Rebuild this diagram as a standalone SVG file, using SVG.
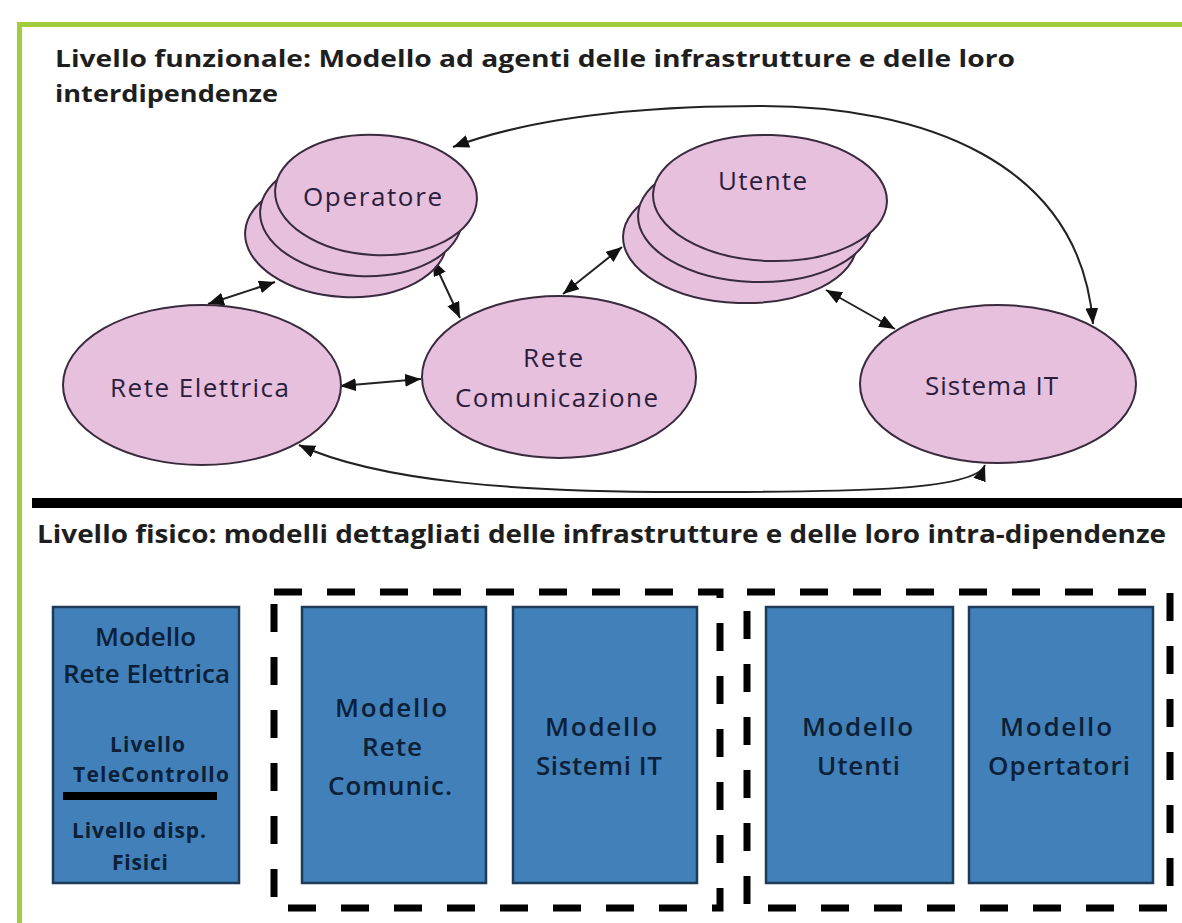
<svg xmlns="http://www.w3.org/2000/svg" width="1182" height="923" viewBox="0 0 1182 923">
<defs>
<style>
.title{font-family:"Open Sans","Liberation Sans",sans-serif;font-weight:bold;fill:#1e1e1e}
.el{fill:#e6c0dd;stroke:#3a2a3e;stroke-width:2}
.elt{font-family:"Open Sans","Liberation Sans",sans-serif;font-size:26px;font-weight:500;fill:#2b1d3b}
.box{fill:#4180b8;stroke:#1d3a58;stroke-width:2.5}
.bt{font-family:"Open Sans","Liberation Sans",sans-serif;font-size:26px;font-weight:600;fill:#0c2038}
.bts{font-family:"Open Sans","Liberation Sans",sans-serif;font-size:21px;font-weight:bold;fill:#0c2038}
.con{fill:none;stroke:#222;stroke-width:2;marker-start:url(#ah);marker-end:url(#ah)}
.dash{fill:none;stroke:#000;stroke-width:7;stroke-dasharray:28 25}
</style>
<marker id="ah" viewBox="0 0 16 13" refX="16" refY="6.5" markerWidth="16" markerHeight="13" markerUnits="userSpaceOnUse" orient="auto-start-reverse">
<path d="M0,0 L16,6.5 L0,13 z" fill="#111"/>
</marker>
</defs>
<rect width="1182" height="923" fill="#fff"/>
<g id="frame">
<rect x="17" y="22" width="5" height="901" fill="#9fcd3c"/>
<rect x="17" y="22" width="1165" height="5" fill="#9fcd3c"/>
<rect x="32" y="498" width="1150" height="10" fill="#000"/>
</g>
<g id="titles">
<text class="title" x="55" y="67" font-size="23" textLength="960" lengthAdjust="spacingAndGlyphs">Livello funzionale: Modello  ad agenti delle infrastrutture e delle loro</text>
<text class="title" x="55" y="102" font-size="23" textLength="223" lengthAdjust="spacingAndGlyphs">interdipendenze</text>
<text class="title" x="37" y="543" font-size="25" textLength="1129" lengthAdjust="spacingAndGlyphs">Livello fisico: modelli dettagliati delle infrastrutture e delle loro intra-dipendenze</text>
</g>
<g id="connectors">
<path class="con" d="M275 282 L208 304"/>
<path class="con" d="M433 260 L460 318"/>
<path class="con" d="M340 386 L421 379"/>
<path class="con" d="M563 294 L622 247"/>
<path class="con" d="M826 290 L895 329"/>
<path class="con" d="M453 147 C520 122 620 106 760 106 C920 106 1080 160 1093 324"/>
<path class="con" d="M299 445 C380 482 520 492 680 492 C840 492 975 492 985 465"/>
</g>
<g id="operatore">
<ellipse class="el" cx="346" cy="237" rx="101" ry="60" transform="rotate(3 346 237)"/>
<ellipse class="el" cx="361" cy="216" rx="101" ry="60" transform="rotate(3 361 216)"/>
<ellipse class="el" cx="376" cy="195" rx="101" ry="60" transform="rotate(3 376 195)"/>
<text class="elt" x="303" y="206" textLength="139" lengthAdjust="spacing">Operatore</text>
</g>
<g id="utente">
<ellipse class="el" cx="740" cy="240" rx="117" ry="63" transform="rotate(2 740 240)"/>
<ellipse class="el" cx="755" cy="219" rx="117" ry="63" transform="rotate(2 755 219)"/>
<ellipse class="el" cx="770" cy="198" rx="117" ry="63" transform="rotate(2 770 198)"/>
<text class="elt" x="718" y="190" textLength="89" lengthAdjust="spacing">Utente</text>
</g>
<g id="rete-elettrica">
<ellipse class="el" cx="202" cy="385" rx="139" ry="80"/>
<text class="elt" x="110" y="397" textLength="179" lengthAdjust="spacing">Rete Elettrica</text>
</g>
<g id="rete-comunicazione">
<ellipse class="el" cx="559" cy="377" rx="137" ry="81"/>
<text class="elt" x="523" y="367" textLength="60" lengthAdjust="spacing">Rete</text>
<text class="elt" x="455" y="407" textLength="203" lengthAdjust="spacing">Comunicazione</text>
</g>
<g id="sistema-it">
<ellipse class="el" cx="998" cy="384" rx="138" ry="79"/>
<text class="elt" x="925" y="395" textLength="133" lengthAdjust="spacing">Sistema IT</text>
</g>
<g id="group-dashed">
<rect class="dash" x="274" y="592" width="446" height="316"/>
<rect class="dash" x="747" y="592" width="423" height="316"/>
</g>
<g id="box-rete-elettrica">
<rect class="box" x="53" y="607" width="186" height="276"/>
<text class="bt" x="95" y="646" font-size="24" textLength="101" lengthAdjust="spacing">Modello</text>
<text class="bt" x="63" y="683" font-size="24" textLength="167" lengthAdjust="spacing">Rete Elettrica</text>
<text class="bts" x="110" y="752" textLength="75" lengthAdjust="spacing">Livello</text>
<text class="bts" x="73" y="782" textLength="156" lengthAdjust="spacing">TeleControllo</text>
<rect x="63" y="792" width="154" height="8" fill="#000"/>
<text class="bts" x="72" y="838" textLength="134" lengthAdjust="spacing">Livello disp.</text>
<text class="bts" x="112" y="870" textLength="56" lengthAdjust="spacing">Fisici</text>
</g>
<g id="box-rete-comunic">
<rect class="box" x="302" y="607" width="184" height="276"/>
<text class="bt" x="335" y="717" textLength="112" lengthAdjust="spacing">Modello</text>
<text class="bt" x="362" y="756" textLength="60" lengthAdjust="spacing">Rete</text>
<text class="bt" x="328" y="795" textLength="124" lengthAdjust="spacing">Comunic.</text>
</g>
<g id="box-sistemi-it">
<rect class="box" x="513" y="607" width="184" height="276"/>
<text class="bt" x="545" y="736" textLength="112" lengthAdjust="spacing">Modello</text>
<text class="bt" x="536" y="775" textLength="126" lengthAdjust="spacing">Sistemi IT</text>
</g>
<g id="box-utenti">
<rect class="box" x="766" y="607" width="187" height="276"/>
<text class="bt" x="802" y="736" textLength="111" lengthAdjust="spacing">Modello</text>
<text class="bt" x="817" y="775" textLength="83" lengthAdjust="spacing">Utenti</text>
</g>
<g id="box-opertatori">
<rect class="box" x="969" y="607" width="184" height="276"/>
<text class="bt" x="1000" y="736" textLength="112" lengthAdjust="spacing">Modello</text>
<text class="bt" x="988" y="775" textLength="142" lengthAdjust="spacing">Opertatori</text>
</g>
</svg>
